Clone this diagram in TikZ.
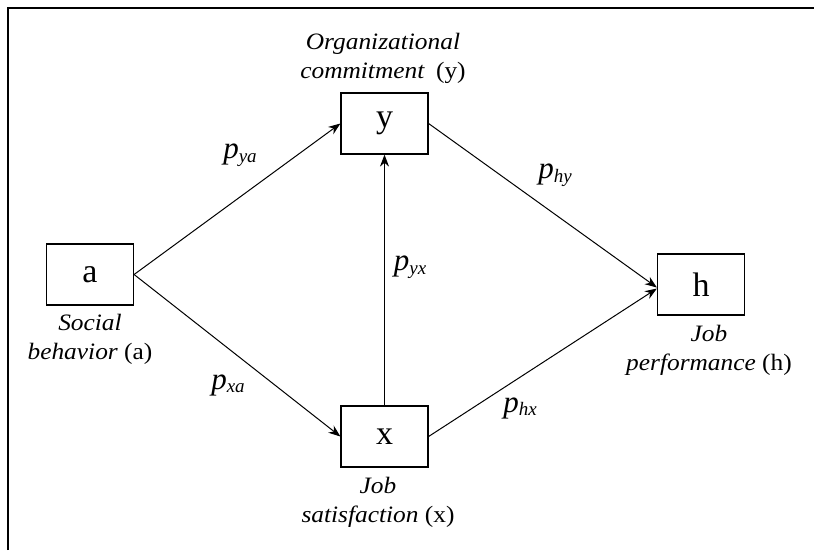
\documentclass[tikz,border=0pt]{standalone}
\usepackage{fontspec}
\setmainfont{Liberation Serif}
\newfontfamily\capfont[FakeStretch=1.08]{Liberation Serif}
\usetikzlibrary{arrows.meta}
% path coefficient p with a lowered italic subscript
\newcommand\pcoef[1]{p\raisebox{-0.25ex}{\fontsize{19}{19}\selectfont #1}}
\begin{document}
\begin{tikzpicture}[x=1pt,y=-1pt,
  var/.style={draw, line width=1.2pt, minimum width=87pt, minimum height=61pt,
    inner sep=0pt, font=\fontsize{34}{34}\selectfont},
  link/.style={line width=1pt, -{Stealth[length=12pt,width=9pt]}},
  desc/.style={align=center, inner sep=0pt,
    font=\capfont\fontsize{23.5}{29}\selectfont\itshape},
  coef/.style={inner sep=0pt, font=\fontsize{31}{31}\selectfont\itshape}]
\useasboundingbox (0,0) rectangle (814,550);
% frame
\draw[line width=2pt] (8,550) -- (8,8) -- (814,8);

% variables
\node[var] (y) at (384.5,123.5) {y};
\node[var] (a) at (90,274.5) {a};
\node[var] (x) at (384.5,436.5) {x};
\node[var] (h) at (701,284.5) {h};

% captions
\node[desc] (ycap) at (383,58) {Organizational\\commitment\enspace\textup{(y)}};
\node[desc] (acap) at (90,339) {Social\\behavior \textup{(a)}};
\node[desc] (xcap) at (378,502) {Job\\satisfaction \textup{(x)}};
\node[desc] (hcap) at (709,350) {Job\\performance \textup{(h)}};

% paths
\draw[link] (a.east) -- (y.west);
\draw[link] (a.east) -- (x.west);
\draw[link] (x.north) -- (y.south);
\draw[link] (y.east) -- ([yshift=-3pt]h.west);
\draw[link] (x.east) -- ([yshift=-4pt]h.west);

% coefficients
\node[coef] (pya) at (240,155) {\pcoef{ya}};
\node[coef] (pxa) at (228,385) {\pcoef{xa}};
\node[coef] (pyx) at (410,267) {\pcoef{yx}};
\node[coef] (phy) at (555,175) {\pcoef{hy}};
\node[coef] (phx) at (520,408) {\pcoef{hx}};
\end{tikzpicture}
\end{document}
